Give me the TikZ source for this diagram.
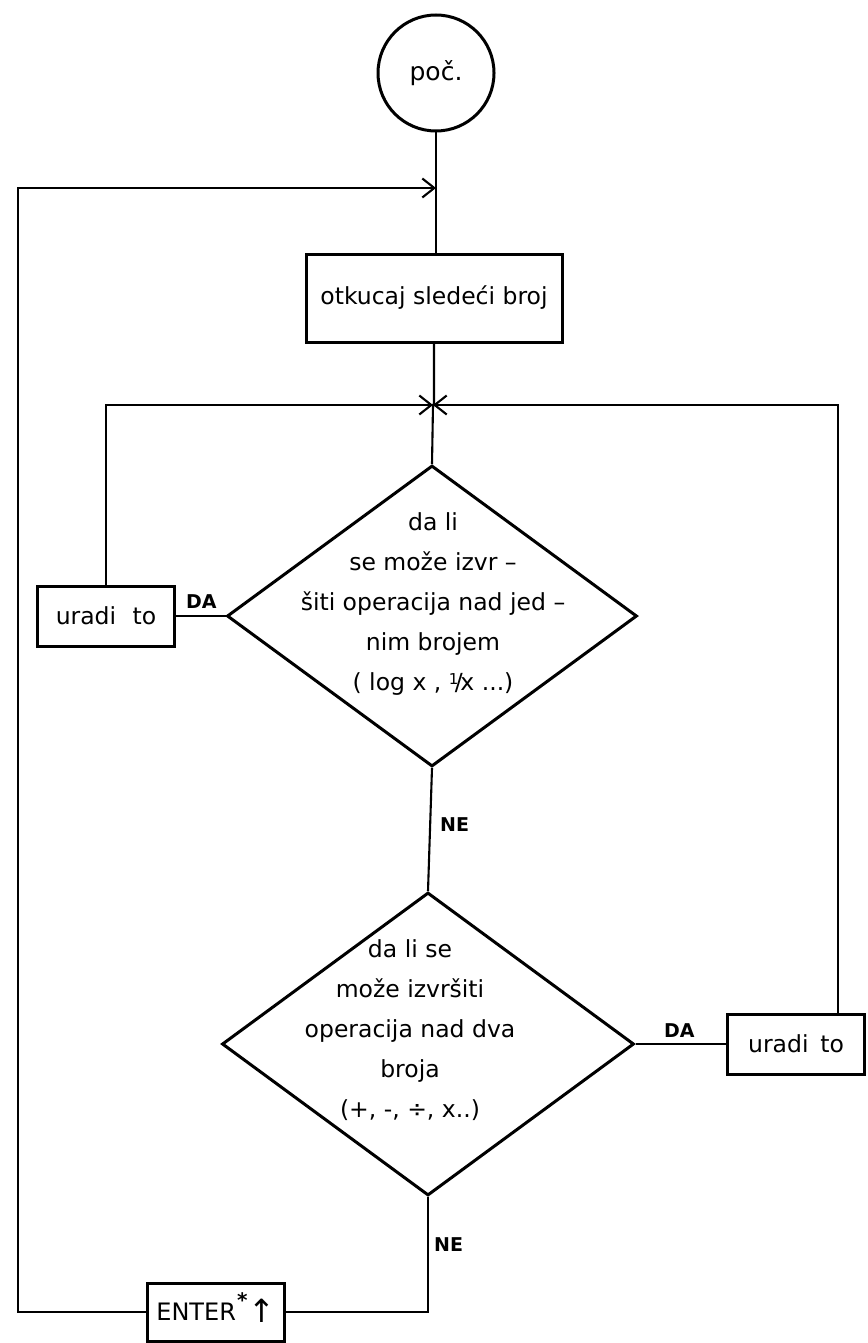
\documentclass[tikz,border=0pt]{standalone}
\usepackage{fontspec}
\setmainfont{DejaVu Sans}
\usetikzlibrary{shapes.geometric,arrows.meta}
\begin{document}
\begin{tikzpicture}[x=1pt,y=-1pt,
  shapeline/.style={draw, line width=3pt},
  conn/.style={draw, line width=2.1pt},
  arr/.style={conn, -{Straight Barb[length=12pt,width=19pt,line width=2.1pt]}},
  box/.style={shapeline, rectangle, inner sep=0pt},
  lbl/.style={font=\fontsize{19}{19}\selectfont\bfseries, inner sep=0pt},
  txt/.style={font=\fontsize{23.5}{40}\selectfont, align=center, inner sep=0pt},
  boxtxt/.style={font=\fontsize{23.5}{26}\selectfont},
]
\useasboundingbox (0,0) rectangle (867,1343);
\fill[white] (0,0) rectangle (867,1343);

% nodes
\node[shapeline, circle, minimum size=116pt, inner sep=0pt, font=\fontsize{25}{26}\selectfont] (start) at (436,73) {poč.};
\node[box, boxtxt, minimum width=256pt, minimum height=88pt] (read) at (434,298) {otkucaj sledeći broj};
\coordinate (J) at (433,405);

\node[shapeline, diamond, minimum width=410pt, minimum height=301pt, inner sep=0pt] (d1) at (432,616) {};
\node[txt] (d1t) at (433,604) {da li\\se može izvr –\\šiti operacija nad jed –\\nim brojem\\( log x , {\raisebox{0.45ex}{\fontsize{15}{15}\selectfont 1}\kern-0.15em/\kern-0.1em x} ...)};

\node[box, boxtxt, minimum width=137pt, minimum height=60pt] (doL) at (106,616) {uradi\hspace{0.7em}to};

\node[shapeline, diamond, minimum width=412pt, minimum height=303pt, inner sep=0pt] (d2) at (428,1044) {};
\node[txt] (d2t) at (410,1030) {da li se\\može izvršiti\\operacija nad dva\\broja\\(+, -, ÷, x..)};

\node[box, boxtxt, minimum width=137pt, minimum height=60pt] (doR) at (796,1044) {uradi\hspace{0.5em}to};

\node[box, minimum width=137pt, minimum height=58pt, font=\fontsize{24}{26}\selectfont] (enter) at (216,1312) {ENTER\kern0.05em\smash{\raisebox{1.0ex}{\fontsize{20}{20}\selectfont\bfseries *}}\hspace{0.05em}\smash{\raisebox{-0.15ex}{\fontsize{32}{32}\selectfont ↑}}};

% labels
\node[lbl, anchor=south west] (da1) at (186,609) {DA};
\node[lbl, anchor=west] (ne1) at (440,825) {NE};
\node[lbl, anchor=south west] (da2) at (664,1038) {DA};
\node[lbl, anchor=west] (ne2) at (434,1245) {NE};

% corner coordinates
\coordinate (TL) at (18,188);
\coordinate (RT) at (838,405);

% connectors
\draw[conn] (start.south) -- (start.south |- read.north);
\draw[conn] (read.south) -- (read.south |- J) -- (J) -- (d1.north);
\draw[arr] (enter.west) -- (enter.west -| TL) -- (TL) -- (TL -| start.south);
\draw[arr] (doL.north) -- (doL.north |- J) -- (J);
\draw[arr] ([xshift=42pt]doR.north) -- (RT) -- (J);
\draw[conn] (d1.west) -- (doL.east);
\draw[conn] (d1.south) -- (d2.north);
\draw[conn] (d2.east) -- (doR.west);
\draw[conn] (d2.south) |- (enter.east);
\end{tikzpicture}
\end{document}
